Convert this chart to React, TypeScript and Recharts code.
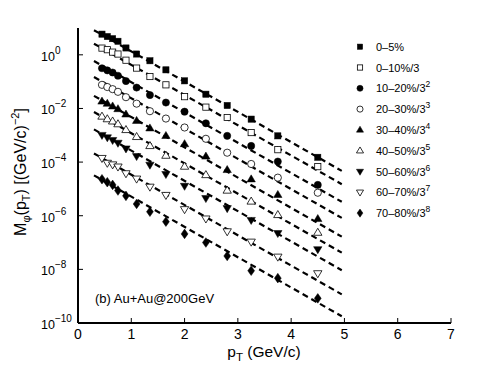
import React from 'react';
import { ComposedChart, XAxis, YAxis, Scatter, Line } from 'recharts';

const pT = [0.45, 0.55, 0.65, 0.75, 0.9, 1.1, 1.35, 1.65, 2.0, 2.4, 2.8, 3.25, 3.75, 4.5];

const c0_5 = [5.9, 4.8, 4.0, 3.2, 1.8, 1.07, 0.6, 0.275, 0.107, 0.034, 0.0129, 0.004, 0.00095, 0.000151];
const c0_10 = [1.78, 1.55, 1.26, 1.07, 0.63, 0.32, 0.155, 0.076, 0.0275, 0.0112, 0.0046, 0.00126, 0.00029, 0.0000676];
const c10_20 = [0.316, 0.263, 0.219, 0.166, 0.105, 0.06, 0.0316, 0.0166, 0.0076, 0.0028, 0.00095, 0.0004, 0.000105, 0.0000141];
const c20_30 = [0.076, 0.063, 0.0525, 0.0417, 0.0263, 0.0151, 0.0079, 0.0042, 0.00195, 0.00074, 0.000224, 0.000085, 0.0000263, 0.0000072];
const c30_40 = [0.0182, 0.0151, 0.012, 0.0095, 0.006, 0.00347, 0.00182, 0.00095, 0.00047, 0.000162, 0.000051, 0.0000229, 0.000006, 0.00000076];
const c40_50 = [0.005, 0.004, 0.0033, 0.0026, 0.00158, 0.00087, 0.0004, 0.000174, 0.000068, 0.000033, 0.0000087, 0.0000034, 0.00000107, 0.000000234];
const c50_60 = [0.00102, 0.00083, 0.00066, 0.00052, 0.00032, 0.000166, 0.000079, 0.0000355, 0.0000129, 0.0000045, 0.0000019, 0.00000069, 0.000000224, 0.000000056];
const c60_70 = [0.000141, 0.0000933, 0.0000813, 0.0000676, 0.000038, 0.000024, 0.000012, 0.0000059, 0.00000174, 0.00000078, 0.00000026, 0.000000107, 0.0000000295, 0.0000000071];
const c70_80 = [0.0000229, 0.0000178, 0.0000141, 0.0000087, 0.0000055, 0.00000275, 0.00000141, 0.0000006, 0.00000021, 0.0000001, 0.0000000316, 0.0000000089, 0.0000000047, 0.00000000083];

const fitX = [0.3, 4.95];
const fit0_5 = [8.3, 0.000047];
const fit0_10 = [2.6, 0.000015];
const fit10_20 = [0.59, 0.0000033];
const fit20_30 = [0.148, 0.00000083];
const fit30_40 = [0.0295, 0.000000166];
const fit40_50 = [0.0074, 0.000000042];
const fit50_60 = [0.00166, 0.0000000093];
const fit60_70 = [0.00021, 0.00000000117];
const fit70_80 = [0.000032, 0.000000000178];

const seriesNames = ['0–5%', '0–10%/3', '10–20%/3', '20–30%/3', '30–40%/3', '40–50%/3', '50–60%/3', '60–70%/3', '70–80%/3'];
const seriesExps = ['', '', '2', '3', '4', '5', '6', '7', '8'];
const seriesMarkers = ['sqF', 'sqO', 'ciF', 'ciO', 'tuF', 'tuO', 'tdF', 'tdO', 'diF'];
const seriesValues = [c0_5, c0_10, c10_20, c20_30, c30_40, c40_50, c50_60, c60_70, c70_80];
const fitValues = [fit0_5, fit0_10, fit10_20, fit20_30, fit30_40, fit40_50, fit50_60, fit60_70, fit70_80];

const xTicks = [0, 1, 2, 3, 4, 5, 6, 7];
const yTicks = [1e-10, 1e-8, 1e-6, 1e-4, 1e-2, 1];
const yTickExps = ['−10', '−8', '−6', '−4', '−2', '0'];

const FONT = '"Liberation Sans", Arial, Helvetica, sans-serif';

function drawMarker(kind: string, cx: number, cy: number, s: number) {
  const filled = kind.endsWith('F');
  const fill = filled ? '#000' : '#fff';
  const sw = filled ? 0.5 : 0.8;
  const base = kind.slice(0, 2);
  if (base === 'sq') {
    const h = 3.1 * s;
    return <rect x={cx - h} y={cy - h} width={2 * h} height={2 * h} fill={fill} stroke="#000" strokeWidth={sw} />;
  }
  if (base === 'ci') {
    return <circle cx={cx} cy={cy} r={3.6 * s} fill={fill} stroke="#000" strokeWidth={sw} />;
  }
  if (base === 'tu') {
    const r = 4.4 * s;
    const pts = `${cx},${cy - r} ${cx + r * 0.95},${cy + r * 0.6} ${cx - r * 0.95},${cy + r * 0.6}`;
    return <polygon points={pts} fill={fill} stroke="#000" strokeWidth={sw} />;
  }
  if (base === 'td') {
    const r = 4.4 * s;
    const pts = `${cx},${cy + r} ${cx + r * 0.95},${cy - r * 0.6} ${cx - r * 0.95},${cy - r * 0.6}`;
    return <polygon points={pts} fill={fill} stroke="#000" strokeWidth={sw} />;
  }
  const w = 3.4 * s;
  const h = 4.8 * s;
  const pts = `${cx},${cy - h} ${cx + w},${cy} ${cx},${cy + h} ${cx - w},${cy}`;
  return <polygon points={pts} fill={fill} stroke="#000" strokeWidth={sw} />;
}

const makeShape = (kind: string) => (props: any) => {
  const { cx, cy } = props;
  if (cx == null || cy == null) return <g />;
  return drawMarker(kind, cx, cy, 1);
};

const YTick = (props: any) => {
  const { y, index } = props;
  return (
    <text x={33} y={y + 6} fontFamily={FONT} fontSize={12.5} fill="#000" textAnchor="start">
      10
      <tspan fontSize={10} dy={-7}>{yTickExps[index]}</tspan>
    </text>
  );
};

const W = 490;
const H = 360;

export default function App() {
  const scatterData = seriesValues.map((vals) => pT.map((x, i) => ({ x, y: vals[i] })));
  const lineData = fitValues.map((vals) => fitX.map((x, i) => ({ x, y: vals[i] })));
  return (
    <div style={{ position: 'relative', width: W, height: H }}>
      <ComposedChart width={W} height={H} margin={{ top: 20, right: 47, bottom: 5, left: 10 }}>
        <XAxis
          dataKey="x"
          type="number"
          domain={[0, 7]}
          ticks={xTicks}
          allowDataOverflow
          height={40}
          tickSize={-5}
          tickMargin={11}
          axisLine={{ stroke: '#000', strokeWidth: 2 }}
          tickLine={{ stroke: '#000', strokeWidth: 1 }}
          tick={{ fill: '#000', fontSize: 14, fontFamily: FONT }}
          interval={0}
        />
        <XAxis
          xAxisId="top"
          orientation="top"
          type="number"
          domain={[0, 7]}
          ticks={xTicks}
          allowDataOverflow
          height={0}
          tickSize={-5}
          axisLine={{ stroke: '#000', strokeWidth: 2 }}
          tickLine={{ stroke: '#000', strokeWidth: 1 }}
          tick={false}
          interval={0}
        />
        <YAxis
          dataKey="y"
          type="number"
          scale="log"
          domain={[1e-10, 10]}
          ticks={yTicks}
          allowDataOverflow
          width={60}
          tickSize={-5}
          axisLine={{ stroke: '#000', strokeWidth: 2 }}
          tickLine={{ stroke: '#000', strokeWidth: 1 }}
          tick={<YTick />}
          interval={0}
        />
        <YAxis
          yAxisId="right"
          orientation="right"
          type="number"
          scale="log"
          domain={[1e-10, 10]}
          ticks={yTicks}
          allowDataOverflow
          width={0}
          tickSize={-5}
          axisLine={{ stroke: '#000', strokeWidth: 2 }}
          tickLine={{ stroke: '#000', strokeWidth: 1 }}
          tick={false}
          interval={0}
        />
        {lineData.map((d, i) => (
          <Line
            key={'fit' + i}
            data={d}
            dataKey="y"
            type="linear"
            stroke="#000"
            strokeWidth={2.2}
            strokeDasharray="6 4"
            dot={false}
            activeDot={false}
            isAnimationActive={false}
            legendType="none"
          />
        ))}
        {scatterData.map((d, i) => (
          <Scatter
            key={'sc' + i}
            name={seriesNames[i]}
            data={d}
            dataKey="y"
            shape={makeShape(seriesMarkers[i])}
            isAnimationActive={false}
          />
        ))}
      </ComposedChart>
      <svg width={W} height={H} style={{ position: 'absolute', left: 0, top: 0, pointerEvents: 'none' }}>
        {seriesNames.map((name, i) => {
          const yy = 38.7 + i * 20.8;
          return (
            <g key={'lg' + i}>
              {drawMarker(seriesMarkers[i], 352, yy, 0.85)}
              <text x={368} y={yy + 4} fontFamily={FONT} fontSize={11} fill="#000">
                {name}
                {seriesExps[i] ? <tspan fontSize={8.5} dy={-5}>{seriesExps[i]}</tspan> : null}
              </text>
            </g>
          );
        })}
        <text x={87} y={295} fontFamily={FONT} fontSize={13} fill="#000">(b) Au+Au@200GeV</text>
        <text x={256} y={348.5} fontFamily={FONT} fontSize={15.5} fill="#000" textAnchor="middle">
          p<tspan fontSize={11.5} dy={4}>T</tspan><tspan dy={-4}> (GeV/c)</tspan>
        </text>
        <text
          transform="translate(18,164) rotate(-90)"
          x={0}
          y={0}
          fontFamily={FONT}
          fontSize={16}
          fill="#000"
          textAnchor="middle"
        >
          M<tspan fontSize={11} dy={4}>φ</tspan><tspan dy={-4}>(p</tspan><tspan fontSize={11} dy={4}>T</tspan><tspan dy={-4}>) [(GeV/c)</tspan><tspan fontSize={11} dy={-7}>−2</tspan><tspan dy={7}>]</tspan>
        </text>
      </svg>
    </div>
  );
}
